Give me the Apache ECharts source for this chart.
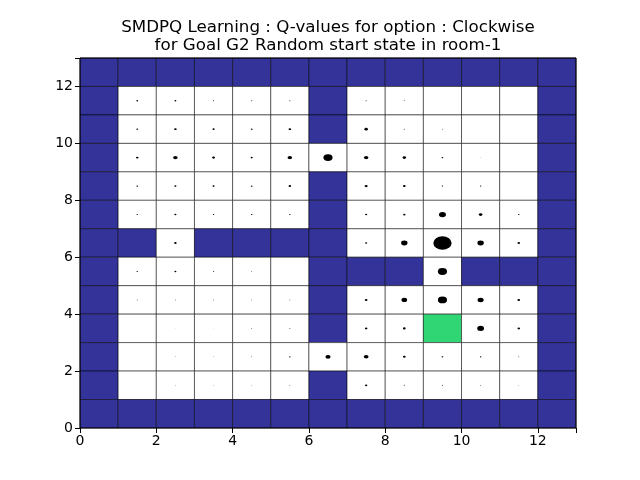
<!DOCTYPE html>
<html>
<head>
<meta charset="utf-8">
<script src="https://cdn.jsdelivr.net/npm/echarts@6/dist/echarts.min.js"></script>
<style>html,body{margin:0;padding:0;background:#fff}#c{width:640px;height:480px}</style>
</head>
<body>
<div id="c"></div>
<script>
// Layout rows from top (y=12) to bottom (y=0); W = wall, . = open, G = goal
var layoutRows = [
  'WWWWWWWWWWWWW',
  'W.....W.....W',
  'W.....W.....W',
  'W...........W',
  'W.....W.....W',
  'W.....W.....W',
  'WW.WWWW.....W',
  'W.....WWW.WWW',
  'W.....W.....W',
  'W.....W..G..W',
  'W...........W',
  'W.....W.....W',
  'WWWWWWWWWWWWW'
];
// Relative Q-value magnitude per cell, rows from top (y=12) to bottom (y=0)
var qRows = [
  [0,0,0,0,0,0,0,0,0,0,0,0,0],
  [0,.1,.1,.065,.065,.065,0,.065,.05,0,0,0,0],
  [0,.1,.14,.12,.1,.14,0,.19,.065,.05,0,0,0],
  [0,.14,.25,.16,.12,.25,.5,.24,.19,.1,.035,0,0],
  [0,.1,.12,.12,.1,.14,0,.17,.15,.08,.08,0,0],
  [0,.08,.12,.08,.08,.08,0,.12,.13,.38,.2,.08,0],
  [0,0,.14,0,0,0,0,.12,.35,1.0,.35,.14,0],
  [0,.08,.11,.065,.05,0,0,0,0,.5,0,0,0],
  [0,.05,.05,.05,.05,.05,0,.15,.31,.5,.33,.15,0],
  [0,0,.035,.035,.05,.065,0,.14,.15,0,.37,.14,0],
  [0,0,.035,.035,.05,.08,.28,.26,.15,.1,.08,.065,0],
  [0,.02,.035,.035,.035,.05,0,.13,.065,.065,.05,.035,0],
  [0,0,0,0,0,0,0,0,0,0,0,0,0]
];
var axisTicks = [0, 2, 4, 6, 8, 10, 12];
var titleLines = ['SMDPQ Learning : Q-values for option : Clockwise', 'for Goal G2 Random start state in room-1'];

var N = layoutRows.length;
var cellData = [];
var dotData = [];
for (var r = 0; r < N; r++) {
  var y = N - 1 - r;
  for (var x = 0; x < N; x++) {
    var ch = layoutRows[r].charAt(x);
    cellData.push([x, y, ch === 'W' ? 0 : (ch === 'G' ? 2 : 1)]);
    if (qRows[r][x] > 0) dotData.push([x + 0.5, y + 0.5, qRows[r][x]]);
  }
}
var cellColors = ['#333399', '#ffffff', '#30d574'];
var maxR = 0.24;

var chart = echarts.init(document.getElementById('c'), null, {renderer: 'canvas'});
chart.setOption({
  animation: false,
  backgroundColor: '#ffffff',
  graphic: titleLines.map(function (t, i) {
    return {
      type: 'text', left: null, x: 328, y: 19 + i * 18.5,
      style: {text: t, textAlign: 'center', textVerticalAlign: 'top',
        font: '16.7px "DejaVu Sans"', fill: '#000'}
    };
  }),
  grid: {left: 80, right: 64, top: 58, bottom: 52, show: true, borderColor: '#000', borderWidth: 1, backgroundColor: 'transparent', z: 10},
  xAxis: {
    type: 'value', min: 0, max: 13, interval: 2,
    axisLine: {show: false},
    axisTick: {show: true, inside: false, length: 5, lineStyle: {color: '#000'}},
    axisLabel: {fontFamily: 'DejaVu Sans', fontSize: 14, color: '#000', margin: 6,
      formatter: function (v) { return axisTicks.indexOf(v) >= 0 ? String(v) : ''; }},
    splitLine: {show: false}
  },
  yAxis: {
    type: 'value', min: 0, max: 13, interval: 2,
    axisLine: {show: false},
    axisTick: {show: true, inside: false, length: 5, lineStyle: {color: '#000'}},
    axisLabel: {fontFamily: 'DejaVu Sans', fontSize: 14, color: '#000', margin: 7,
      formatter: function (v) { return axisTicks.indexOf(v) >= 0 ? String(v) : ''; }},
    splitLine: {show: false}
  },
  series: [
    {
      type: 'custom',
      data: cellData,
      silent: true,
      renderItem: function (params, api) {
        var x = api.value(0), y = api.value(1), t = api.value(2);
        var p0 = api.coord([x, y + 1]);
        var p1 = api.coord([x + 1, y]);
        return {
          type: 'rect',
          shape: {x: p0[0], y: p0[1], width: p1[0] - p0[0], height: p1[1] - p0[1]},
          style: {fill: cellColors[t], stroke: 'rgba(0,0,0,0.58)', lineWidth: 0.9}
        };
      },
      z: 1
    },
    {
      type: 'custom',
      data: dotData,
      silent: true,
      renderItem: function (params, api) {
        var c = api.coord([api.value(0), api.value(1)]);
        var s = api.size([1, 1]);
        var rx = api.value(2) * maxR * s[0];
        var ry = api.value(2) * maxR * s[1];
        return {
          type: 'circle',
          x: c[0], y: c[1],
          scaleX: 1, scaleY: ry / rx,
          shape: {cx: 0, cy: 0, r: rx},
          style: {fill: '#000'}
        };
      },
      z: 2
    }
  ]
});
</script>
</body>
</html>
